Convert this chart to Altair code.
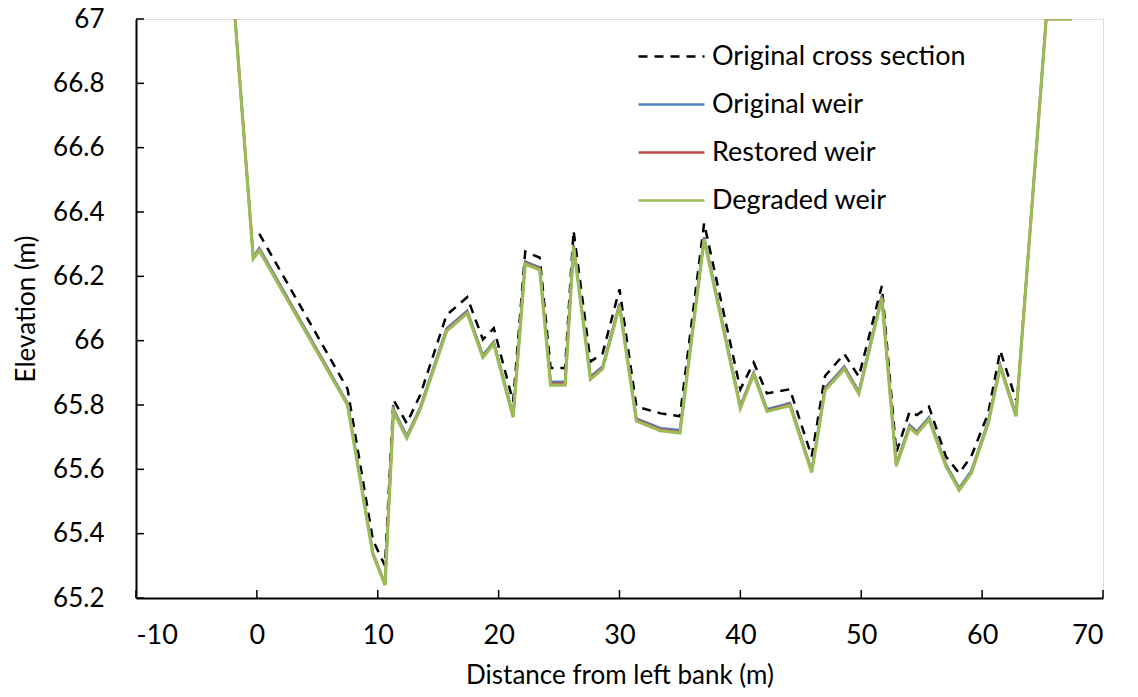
import altair as alt
import pandas as pd

# Stations (m from left bank) shared by the three weir profiles
x_weir = [-1.8, -0.3, 0.2, 7.5, 9.6, 10.6, 11.3, 12.4, 13.5, 15.7, 17.4, 18.7, 19.6,
          21.2, 22.2, 23.4, 24.3, 25.5, 26.2, 27.6, 28.6, 30.0, 31.4, 33.4, 35.0,
          37.0, 40.0, 41.1, 42.2, 44.1, 45.9, 47.0, 48.6, 49.8, 51.7, 52.9, 54.0,
          54.6, 55.6, 57.0, 58.1, 59.1, 60.5, 61.5, 62.8, 65.3, 67.4]

elev_original_weir = [67.0, 66.26, 66.288, 65.806, 65.34, 65.245, 65.788, 65.704, 65.792,
                      66.038, 66.093, 65.955, 65.997, 65.768, 66.246, 66.228, 65.872, 65.872,
                      66.298, 65.888, 65.92, 66.115, 65.758, 65.728, 65.722, 66.322, 65.797,
                      65.902, 65.787, 65.806, 65.596, 65.853, 65.92, 65.842, 66.14, 65.616,
                      65.738, 65.718, 65.762, 65.617, 65.542, 65.595, 65.749, 65.925, 65.77,
                      67.0, 67.0]

elev_restored_weir = [67.0, 66.258, 66.284, 65.803, 65.338, 65.243, 65.784, 65.7, 65.788,
                      66.034, 66.089, 65.951, 65.993, 65.765, 66.242, 66.224, 65.867, 65.867,
                      66.295, 65.884, 65.916, 66.111, 65.754, 65.724, 65.717, 66.318, 65.793,
                      65.898, 65.783, 65.802, 65.593, 65.849, 65.916, 65.838, 66.136, 65.613,
                      65.734, 65.714, 65.758, 65.613, 65.538, 65.591, 65.745, 65.921, 65.767,
                      67.0, 67.0]

elev_degraded_weir = [67.0, 66.255, 66.28, 65.80, 65.335, 65.24, 65.78, 65.697, 65.785,
                      66.03, 66.085, 65.948, 65.99, 65.762, 66.238, 66.22, 65.862, 65.862,
                      66.292, 65.88, 65.912, 66.108, 65.75, 65.72, 65.713, 66.315, 65.79,
                      65.895, 65.78, 65.798, 65.59, 65.845, 65.912, 65.835, 66.133, 65.61,
                      65.73, 65.71, 65.755, 65.61, 65.535, 65.588, 65.742, 65.918, 65.765,
                      67.0, 67.0]

# Original cross section
x_cross = [0.2, 7.5, 9.6, 10.6, 11.3, 12.4, 13.5, 15.7, 17.4, 18.7, 19.6, 21.2, 22.2,
           23.4, 24.3, 25.5, 26.2, 27.6, 28.6, 30.0, 31.4, 33.4, 35.0, 37.0, 40.0, 41.1,
           42.2, 44.1, 45.9, 47.0, 48.6, 49.8, 51.7, 52.9, 54.0, 54.6, 55.6, 57.0, 58.1,
           59.1, 60.5, 61.5, 62.8]
elev_cross = [66.332, 65.85, 65.38, 65.30, 65.816, 65.743, 65.83, 66.08, 66.135, 66.004,
              66.039, 65.81, 66.277, 66.258, 65.915, 65.915, 66.342, 65.935, 65.96, 66.16,
              65.795, 65.774, 65.765, 66.365, 65.849, 65.932, 65.836, 65.849, 65.64, 65.89,
              65.959, 65.888, 66.17, 65.652, 65.779, 65.769, 65.795, 65.64, 65.588, 65.64,
              65.774, 65.969, 65.816]

series_names = ["Original cross section", "Original weir", "Restored weir", "Degraded weir"]
series_colors = ["#000000", "#4F81BD", "#C0504D", "#9BBB59"]
series_dash = [[9, 7], [1, 0], [1, 0], [1, 0]]
series_width = [2.5, 2.5, 2.5, 3.2]

x_ticks = [-10, 0, 10, 20, 30, 40, 50, 60, 70]
y_ticks = [65.2, 65.4, 65.6, 65.8, 66, 66.2, 66.4, 66.6, 66.8, 67]

rows = []
for xs, ys, name in [(x_cross, elev_cross, series_names[0]),
                     (x_weir, elev_original_weir, series_names[1]),
                     (x_weir, elev_restored_weir, series_names[2]),
                     (x_weir, elev_degraded_weir, series_names[3])]:
    for i, (xv, yv) in enumerate(zip(xs, ys)):
        rows.append({"x": xv, "y": yv, "series": name, "order": i})
df = pd.DataFrame(rows)

FONT = "Lato"
x_scale = alt.Scale(domain=[-10, 70], nice=False, zero=False)
y_scale = alt.Scale(domain=[65.2, 67], nice=False, zero=False)
x_axis = alt.Axis(values=x_ticks, title="Distance from left bank (m)", labelExpr="'' + datum.value",
                  grid=False, ticks=False, domainColor="black", domainWidth=2,
                  labelFontSize=27, labelColor="black", labelPadding=24, labelFont=FONT,
                  titleFontSize=26, titleFont=FONT, titleFontWeight="normal", titleColor="black",
                  titlePadding=14)
y_axis = alt.Axis(values=y_ticks, title="Elevation (m)", labelExpr="'' + datum.value",
                  grid=False, ticks=False, domainColor="black", domainWidth=2,
                  labelFontSize=26, labelColor="black", labelPadding=32, labelFont=FONT,
                  titleFontSize=26, titleFont=FONT, titleFontWeight="normal", titleColor="black",
                  titlePadding=13)

legend = alt.Legend(title=None, orient="none", legendX=501, legendY=3,
                    symbolType="stroke", symbolSize=4356, symbolStrokeWidth=2.5,
                    labelFontSize=27, labelFont=FONT, labelColor="black", labelOffset=6,
                    labelLimit=0, rowPadding=-2)

base = alt.Chart(df).encode(
    x=alt.X("x:Q", scale=x_scale, axis=x_axis),
    y=alt.Y("y:Q", scale=y_scale, axis=y_axis),
    color=alt.Color("series:N", scale=alt.Scale(domain=series_names, range=series_colors), legend=legend),
    strokeDash=alt.StrokeDash("series:N", scale=alt.Scale(domain=series_names, range=series_dash), legend=legend),
    order="order:Q",
)

layers = []
for name, w in zip(series_names, series_width):
    layers.append(base.transform_filter(alt.datum.series == name).mark_line(strokeWidth=w, clip=True))

ytick_layer = alt.Chart(pd.DataFrame({"y": y_ticks})).mark_rule(color="black", strokeWidth=1.5).encode(
    y=alt.Y("y:Q", scale=y_scale, axis=y_axis), x=alt.value(0), x2=alt.value(8))
xtick_layer = alt.Chart(pd.DataFrame({"x": x_ticks})).mark_rule(color="black", strokeWidth=1.5).encode(
    x=alt.X("x:Q", scale=x_scale, axis=x_axis), y=alt.value(579), y2=alt.value(571))

chart = alt.layer(ytick_layer, xtick_layer, *layers).properties(
    width=967, height=579,
    padding={"left": 128, "top": 11, "right": 27, "bottom": 91},
    autosize=alt.AutoSizeParams(type="none"),
).configure_view(stroke="black", strokeWidth=2).configure(font=FONT, background="white")

chart.save("out.html", embed_options={"renderer": "svg", "actions": False})
